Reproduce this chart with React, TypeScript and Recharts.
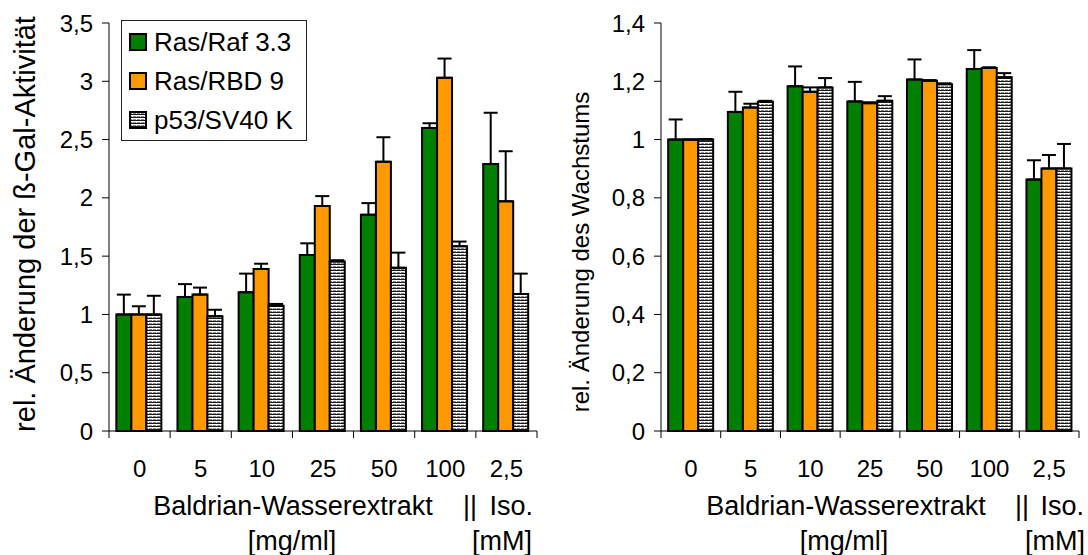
import { Bar, BarChart, ErrorBar, XAxis, YAxis } from 'recharts';

const CATEGORIES = ['0', '5', '10', '25', '50', '100', '2,5'];

// beta-Gal activity (left panel)
const GAL_RAS_RAF = [1.0, 1.15, 1.19, 1.51, 1.855, 2.6, 2.29];
const GAL_RAS_RAF_ERR = [0.17, 0.11, 0.16, 0.1, 0.1, 0.04, 0.44];
const GAL_RAS_RBD = [1.0, 1.17, 1.39, 1.93, 2.31, 3.03, 1.97];
const GAL_RAS_RBD_ERR = [0.07, 0.06, 0.045, 0.085, 0.21, 0.165, 0.43];
const GAL_P53 = [1.0, 0.985, 1.075, 1.455, 1.4, 1.585, 1.175];
const GAL_P53_ERR = [0.16, 0.055, 0.015, 0.01, 0.13, 0.04, 0.175];

// growth (right panel)
const GROW_RAS_RAF = [1.0, 1.095, 1.183, 1.131, 1.206, 1.242, 0.863];
const GROW_RAS_RAF_ERR = [0.069, 0.069, 0.068, 0.067, 0.069, 0.065, 0.066];
const GROW_RAS_RBD = [1.0, 1.11, 1.164, 1.125, 1.202, 1.246, 0.901];
const GROW_RAS_RBD_ERR = [0, 0.013, 0.015, 0.003, 0.002, 0.002, 0.046];
const GROW_P53 = [1.0, 1.13, 1.179, 1.133, 1.19, 1.214, 0.901];
const GROW_P53_ERR = [0.002, 0.003, 0.032, 0.016, 0.003, 0.014, 0.084];

const GAL_TICKS = [0, 0.5, 1, 1.5, 2, 2.5, 3, 3.5];
const GROW_TICKS = [0, 0.2, 0.4, 0.6, 0.8, 1, 1.2, 1.4];

const SERIES_NAMES = ['Ras/Raf 3.3', 'Ras/RBD 9', 'p53/SV40 K'];

const FONT = '"Liberation Sans", Arial, sans-serif';
const TICK_FS = 24;
const CAPTION_FS = 27;
const GREEN = '#008000';
const ORANGE = '#ff9900';

function buildRows(a: number[], ae: number[], b: number[], be: number[], c: number[], ce: number[]) {
  return CATEGORIES.map((name, i) => ({
    name,
    a: a[i], aErr: [0, ae[i]],
    b: b[i], bErr: [0, be[i]],
    c: c[i], cErr: [0, ce[i]],
  }));
}

const galRows = buildRows(GAL_RAS_RAF, GAL_RAS_RAF_ERR, GAL_RAS_RBD, GAL_RAS_RBD_ERR, GAL_P53, GAL_P53_ERR);
const growRows = buildRows(GROW_RAS_RAF, GROW_RAS_RAF_ERR, GROW_RAS_RBD, GROW_RAS_RBD_ERR, GROW_P53, GROW_P53_ERR);

const fmt = (v: number) => String(v).replace('.', ',');

function StripeDefs({ id }: { id: string }) {
  return (
    <defs>
      <pattern id={id} width="4" height="3" patternUnits="userSpaceOnUse">
        <rect width="4" height="3" fill="#ffffff" />
        <rect y="0" width="4" height="1" fill="#1a1a1a" />
        <rect y="2" width="4" height="1" fill="#8c8c8c" />
        <rect x="0" y="2" width="1" height="1" fill="#e6e6e6" />
      </pattern>
    </defs>
  );
}

function makeXTick(bw: number) {
  return (props: any) => {
    const { x, y, payload, index } = props;
    return (
      <g>
        <line x1={x - bw / 2} y1={y} x2={x - bw / 2} y2={y + 7} stroke="#000" />
        {index === CATEGORIES.length - 1 && (
          <line x1={x + bw / 2} y1={y} x2={x + bw / 2} y2={y + 7} stroke="#000" />
        )}
        <text x={x} y={y + 46} textAnchor="middle" fontSize={TICK_FS} fontFamily={FONT} fill="#000">
          {payload.value}
        </text>
      </g>
    );
  };
}

interface PanelProps {
  rows: any[];
  ticks: number[];
  max: number;
  left: number;
  right: number;
  patternId: string;
}

function Panel({ rows, ticks, max, left, right, patternId }: PanelProps) {
  const width = 544;
  const bw = (width - left - 60 - right) / CATEGORIES.length;
  return (
    <BarChart
      width={width}
      height={555}
      data={rows}
      margin={{ top: 23, right, bottom: 0, left }}
      barCategoryGap="12%"
      barGap={0}
    >
      <StripeDefs id={patternId} />
      <XAxis
        dataKey="name"
        height={124}
        interval={0}
        tickSize={0}
        tickMargin={0}
        tickLine={false}
        axisLine={{ stroke: '#000' }}
        tick={makeXTick(bw)}
      />
      <YAxis
        width={60}
        domain={[0, max]}
        ticks={ticks}
        tickFormatter={fmt}
        tickSize={7}
        tickMargin={9}
        axisLine={{ stroke: '#000' }}
        tickLine={{ stroke: '#000' }}
        tick={{ fill: '#000', fontSize: TICK_FS, fontFamily: FONT }}
      />
      <Bar dataKey="a" fill={GREEN} stroke="#000" strokeWidth={2} isAnimationActive={false}>
        <ErrorBar dataKey="aErr" width={7} stroke="#000" strokeWidth={2} direction="y" />
      </Bar>
      <Bar dataKey="b" fill={ORANGE} stroke="#000" strokeWidth={2} isAnimationActive={false}>
        <ErrorBar dataKey="bErr" width={7} stroke="#000" strokeWidth={2} direction="y" />
      </Bar>
      <Bar dataKey="c" fill={`url(#${patternId})`} stroke="#000" strokeWidth={2} isAnimationActive={false}>
        <ErrorBar dataKey="cErr" width={7} stroke="#000" strokeWidth={2} direction="y" />
      </Bar>
    </BarChart>
  );
}

const cap = { fontSize: CAPTION_FS, fontFamily: FONT, fill: '#000' };

export default function App() {
  const swatchFills = [GREEN, ORANGE, 'url(#legendStripe)'];
  return (
    <div style={{ position: 'absolute', left: 0, top: 0, width: 1088, height: 555, background: '#fff' }}>
      <div style={{ position: 'absolute', left: 0, top: 0 }}>
        <Panel rows={galRows} ticks={GAL_TICKS} max={3.5} left={49} right={7} patternId="galStripe" />
      </div>
      <div style={{ position: 'absolute', left: 544, top: 0 }}>
        <Panel rows={growRows} ticks={GROW_TICKS} max={1.4} left={57} right={9} patternId="growStripe" />
      </div>
      <svg width={1088} height={555} style={{ position: 'absolute', left: 0, top: 0, pointerEvents: 'none' }}>
        <StripeDefs id="legendStripe" />
        <text {...cap} fontSize={29} transform="translate(25,224) rotate(-90)" textAnchor="middle" dominantBaseline="central">
          rel. Änderung der ß-Gal-Aktivität
        </text>
        <text {...cap} fontSize={24} transform="translate(580,252) rotate(-90)" textAnchor="middle" dominantBaseline="central">
          rel. Änderung des Wachstums
        </text>

        <text {...cap} x={293} y={515} textAnchor="middle">Baldrian-Wasserextrakt</text>
        <text {...cap} x={292} y={550} textAnchor="middle">[mg/ml]</text>
        <text {...cap} x={470} y={515} textAnchor="middle">||</text>
        <text {...cap} x={533} y={515} textAnchor="end">Iso.</text>
        <text {...cap} x={502} y={550} textAnchor="middle">[mM]</text>

        <text {...cap} x={846} y={515} textAnchor="middle">Baldrian-Wasserextrakt</text>
        <text {...cap} x={844} y={550} textAnchor="middle">[mg/ml]</text>
        <text {...cap} x={1022} y={515} textAnchor="middle">||</text>
        <text {...cap} x={1084} y={515} textAnchor="end">Iso.</text>
        <text {...cap} x={1055} y={550} textAnchor="middle">[mM]</text>

        <rect x={121.5} y={20.5} width={185} height={120} fill="#fff" stroke="#222" strokeWidth={1} />
        {SERIES_NAMES.map((name, i) => {
          const cy = 42 + i * 39;
          return (
            <g key={name}>
              <rect x={130} y={cy - 8} width={16} height={16} fill={swatchFills[i]} stroke="#000" strokeWidth={2} />
              <text {...cap} fontSize={26} x={154} y={cy} dominantBaseline="central">{name}</text>
            </g>
          );
        })}
      </svg>
    </div>
  );
}
